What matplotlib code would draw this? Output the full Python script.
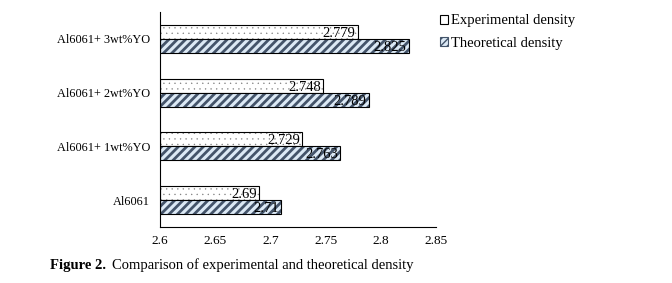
import matplotlib.pyplot as plt
import numpy as np
from matplotlib.patches import Patch

plt.rcParams["font.family"] = ["Liberation Serif", "DejaVu Serif"]

categories = ["Al6061", "Al6061+ 1wt%YO", "Al6061+ 2wt%YO", "Al6061+ 3wt%YO"]
experimental = [2.69, 2.729, 2.748, 2.779]
theoretical = [2.71, 2.763, 2.789, 2.825]
exp_labels = ["2.69", "2.729", "2.748", "2.779"]
theo_labels = ["2.71", "2.763", "2.789", "2.825"]
xticks = [2.6, 2.65, 2.7, 2.75, 2.8, 2.85]
xtick_labels = ["2.6", "2.65", "2.7", "2.75", "2.8", "2.85"]

fig = plt.figure(figsize=(6.72, 2.83), dpi=100)
ax = fig.add_axes([0.238, 0.198, 0.411, 0.760])

y = np.arange(len(categories))
h = 0.26
base = 2.6

# experimental: sparse dots
with plt.rc_context({"hatch.linewidth": 0.2}):
    ax.barh(y + h / 2, np.array(experimental) - base, left=base, height=h,
            color="white", edgecolor="#7a7a7a", hatch="...", linewidth=0)
ax.barh(y + h / 2, np.array(experimental) - base, left=base, height=h,
        fill=False, edgecolor="black", linewidth=0.8)
# theoretical: diagonal stripes
with plt.rc_context({"hatch.linewidth": 2.0}):
    ax.barh(y - h / 2, np.array(theoretical) - base, left=base, height=h,
            color="#dce9f5", edgecolor="#44546a", hatch="////", linewidth=0)
ax.barh(y - h / 2, np.array(theoretical) - base, left=base, height=h,
        fill=False, edgecolor="black", linewidth=0.8)

for i in range(len(categories)):
    ax.text(experimental[i] - 0.002, y[i] + h / 2, exp_labels[i],
            ha="right", va="center_baseline", fontsize=10.5)
    ax.text(theoretical[i] - 0.002, y[i] - h / 2, theo_labels[i],
            ha="right", va="center_baseline", fontsize=10.5)

ax.set_xlim(2.6, 2.85)
ax.set_ylim(-0.5, 3.5)
ax.set_xticks(xticks)
ax.set_xticklabels(xtick_labels, fontsize=9.5)
ax.set_yticks(y)
ax.set_yticklabels(categories, fontsize=8.8)
ax.tick_params(length=0, pad=7)
ax.tick_params(axis="x", pad=6)
for s in ["top", "right"]:
    ax.spines[s].set_visible(False)
ax.spines["left"].set_linewidth(0.8)
ax.spines["bottom"].set_linewidth(0.8)

with plt.rc_context({"hatch.linewidth": 1.0}):
    handles = [
        Patch(facecolor="white", edgecolor="black", linewidth=0.8, label="Experimental density"),
        Patch(facecolor="#dce9f5", edgecolor="#44546a", hatch="/////", linewidth=0.8,
              label="Theoretical density"),
    ]
fig.legend(handles=handles, loc="upper left", bbox_to_anchor=(0.639, 0.985),
           frameon=False, fontsize=10.5, handlelength=0.6, handleheight=0.6,
           handletextpad=0.2, labelspacing=0.65, borderpad=0.2)

fig.text(0.074, 0.062, "Figure 2.", fontsize=10.5, fontweight="bold", ha="left", va="center")
fig.text(0.1665, 0.062, "Comparison of experimental and theoretical density",
         fontsize=10.5, ha="left", va="center")

fig.savefig("out.png", dpi=100)
